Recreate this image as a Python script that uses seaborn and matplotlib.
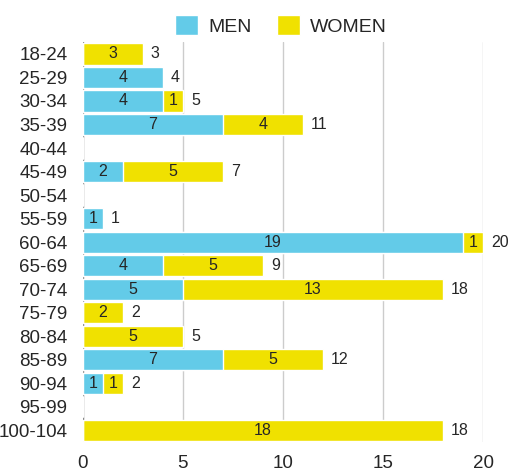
import pandas as pd
import matplotlib
matplotlib.use("Agg")
import matplotlib.pyplot as plt
from matplotlib.patches import Patch
import seaborn as sns

sns.set_style("white")
plt.rcParams['font.family'] = ['Liberation Sans', 'DejaVu Sans']

#
#  Counts by age group
#

ages = ['18-24', '25-29', '30-34', '35-39', '40-44', '45-49', '50-54', '55-59',
        '60-64', '65-69', '70-74', '75-79', '80-84', '85-89', '90-94', '95-99',
        '100-104']
men = [0, 4, 4, 7, 0, 2, 0, 1, 19, 4, 5, 0, 0, 7, 1, 0, 0]
women = [3, 0, 1, 4, 0, 5, 0, 0, 1, 5, 13, 2, 5, 5, 1, 0, 18]

blue = '#63cbe8'
yellow = '#f0e100'

df = pd.DataFrame({'age': ages, 'men': men, 'women': women})
df['total'] = df['men'] + df['women']

fig = plt.figure(figsize=(5.08, 4.74), dpi=100)
ax = fig.add_axes([0.163, 0.0675, 0.788, 0.8435])

#  stacked: draw the total in yellow, then men on top from zero
sns.barplot(data=df, y='age', x='total', color=yellow, width=0.9,
            saturation=1, ax=ax, orient='h', zorder=2)
sns.barplot(data=df, y='age', x='men', color=blue, width=0.9,
            saturation=1, ax=ax, orient='h', zorder=3)

for i, row in df.iterrows():
    if row['men'] > 0:
        ax.text(row['men'] / 2, i, str(row['men']), ha='center', va='center',
                fontsize=11.5, zorder=5)
    if row['women'] > 0:
        ax.text(row['men'] + row['women'] / 2, i, str(row['women']),
                ha='center', va='center', fontsize=11.5, zorder=5)
    if row['total'] > 0:
        ax.text(row['total'] + 0.4, i, str(row['total']), ha='left',
                va='center', fontsize=11.5, zorder=5, clip_on=False)

ax.set_xlim(0, 20)
ax.set_ylim(16.5, -0.5)
ax.set_xticks([0, 5, 10, 15, 20])
ax.grid(axis='x', color='#cccccc', linewidth=1, zorder=0)
ax.axvline(0, color='#888888', linewidth=1, zorder=1)
for s in ax.spines.values():
    s.set_visible(False)
ax.set_xlabel('')
ax.set_ylabel('')
ax.tick_params(axis='both', length=0, labelsize=13.5)
ax.tick_params(axis='y', pad=11)
ax.tick_params(axis='x', pad=9)

handles = [Patch(facecolor=blue, label='MEN'), Patch(facecolor=yellow, label='WOMEN')]
fig.legend(handles=handles, loc='upper center', bbox_to_anchor=(0.553, 1.005),
           ncol=2, frameon=False, fontsize=14, handlelength=1.2,
           handleheight=1.2, handletextpad=0.5, columnspacing=1.3)

fig.savefig('out.png', dpi=100)
